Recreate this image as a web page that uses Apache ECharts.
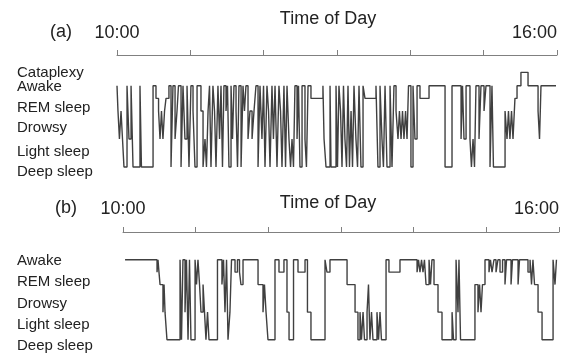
<!DOCTYPE html>
<html>
<head>
<meta charset="utf-8">
<script src="https://cdn.jsdelivr.net/npm/echarts@6/dist/echarts.min.js"></script>
<style>
  html, body { margin: 0; padding: 0; background: #fff; }
  #chart { width: 566px; height: 356px; }
</style>
</head>
<body>
<div id="chart"></div>
<script>
// Stage names shown on the left of each hypnogram, top to bottom
const stageNamesA = ['Cataplexy', 'Awake', 'REM sleep', 'Drowsy', 'Light sleep', 'Deep sleep'];
const stageNamesB = ['Awake', 'REM sleep', 'Drowsy', 'Light sleep', 'Deep sleep'];
// Level at which each stage name is printed
const labelLevelsA = [3.38, 2.85, 2.10, 1.39, 0.53, -0.18];
const labelLevelsB = [2.86, 2.10, 1.30, 0.54, -0.22];
// Plotted level of each stage code (S deep, L light, D drowsy, R REM, W awake, C cataplexy)
const stageLevel = { S: 0, L: 1, D: 2, R: 2.45, W: 2.9, C: 3.38 };
// Time axis: minutes after 10:00, labelled at both ends
const timeLabels = { 0: '10:00', 360: '16:00' };

// Hypnogram (a): [minutes after 10:00, stage entered]
const hypnogramA = [
  [0,'W'],[0.8,'D'],[2.0,'L'],[3.3,'D'],[4.5,'L'],[5.7,'S'],[8.2,'W'],[9.8,'L'],[11.5,'W'],[13.1,'S'],
  [18.8,'W'],[20.0,'S'],[29.5,'W'],[31.9,'R'],[34.0,'D'],[35.2,'L'],[36.4,'D'],[37.6,'L'],[38.9,'D'],[40.1,'R'],
  [42.5,'W'],[44.2,'S'],[45.8,'W'],[47.5,'L'],[49.1,'D'],[50.3,'W'],[52.4,'S'],[54.0,'W'],[55.6,'L'],[57.3,'W'],
  [58.9,'S'],[60.5,'W'],[62.2,'D'],[63.8,'S'],[65.5,'W'],[68.7,'D'],[70.4,'S'],[72.0,'L'],[73.2,'S'],[74.5,'D'],
  [75.7,'W'],[76.9,'S'],[78.5,'W'],[79.8,'D'],[81.0,'S'],[82.6,'W'],[83.9,'L'],[85.1,'W'],[86.3,'S'],[87.5,'W'],
  [89.2,'D'],[90.4,'W'],[91.6,'S'],[93.3,'W'],[94.5,'L'],[95.7,'W'],[97.4,'D'],[98.6,'S'],[99.8,'W'],[101.5,'S'],
  [103.1,'W'],[104.3,'D'],[105.5,'W'],[107.2,'L'],[108.8,'D'],[110.5,'L'],[112.1,'D'],[113.7,'W'],[115.4,'S'],[117.0,'W'],
  [118.6,'L'],[119.9,'W'],[121.1,'S'],[122.7,'W'],[124.0,'D'],[125.2,'S'],[126.8,'W'],[128.0,'L'],[129.3,'W'],[130.9,'S'],
  [132.5,'W'],[133.8,'D'],[135.0,'S'],[136.6,'W'],[137.9,'S'],[139.1,'W'],[140.7,'L'],[142.0,'S'],[143.2,'L'],[144.4,'S'],
  [145.6,'W'],[147.3,'L'],[148.5,'W'],[149.7,'S'],[151.4,'W'],[153.8,'L'],[155.0,'S'],[156.3,'W'],[158.7,'R'],[168.5,'W'],
  [169.4,'L'],[171.0,'S'],[174.3,'W'],[175.1,'S'],[179.2,'W'],[180.4,'S'],[181.6,'W'],[182.9,'D'],[184.1,'S'],[185.3,'W'],
  [186.5,'L'],[187.8,'S'],[189.0,'W'],[190.2,'S'],[191.5,'D'],[192.7,'S'],[193.9,'W'],[195.5,'L'],[196.8,'S'],[198.0,'W'],
  [199.6,'S'],[201.3,'W'],[202.9,'R'],[211.9,'W'],[213.5,'S'],[215.2,'W'],[216.8,'L'],[218.0,'S'],[219.3,'W'],[220.9,'S'],
  [223.4,'W'],[225.0,'S'],[226.6,'W'],[228.3,'D'],[229.9,'L'],[231.1,'D'],[232.4,'L'],[233.6,'D'],[234.8,'L'],[236.1,'D'],
  [237.3,'L'],[238.5,'W'],[240.5,'S'],[242.2,'W'],[243.8,'L'],[245.5,'W'],[247.9,'R'],[255.3,'W'],[268.4,'S'],[274.1,'W'],
  [281.5,'L'],[282.7,'W'],[283.9,'L'],[285.6,'W'],[288.8,'L'],[290.0,'S'],[291.3,'L'],[292.5,'S'],[293.7,'W'],[296.2,'L'],
  [297.8,'W'],[300.3,'D'],[301.9,'W'],[305.2,'S'],[306.8,'W'],[308.0,'S'],[317.5,'D'],[319.1,'L'],[320.3,'D'],[321.5,'L'],
  [322.8,'D'],[324.0,'L'],[325.6,'R'],[327.3,'W'],[330.5,'C'],[336.3,'W'],[344.5,'D'],[345.7,'L'],[346.9,'W'],[359.2,'W']
];

// Hypnogram (b): [minutes after 10:00, stage entered]
const hypnogramB = [
  [1.7,'W'],[28.1,'R'],[28.9,'W'],[29.7,'R'],[30.6,'D'],[33.0,'L'],[33.9,'D'],[34.7,'L'],[36.3,'S'],[47.1,'W'],
  [48.3,'S'],[49.5,'W'],[51.2,'L'],[52.4,'W'],[53.7,'S'],[54.9,'W'],[56.1,'S'],[59.5,'W'],[60.7,'D'],[61.9,'W'],
  [63.2,'D'],[64.4,'L'],[66.1,'D'],[67.3,'L'],[68.5,'S'],[69.8,'L'],[71.0,'S'],[78.0,'W'],[81.7,'D'],[83.0,'W'],
  [84.2,'L'],[85.5,'W'],[86.7,'S'],[88.3,'L'],[89.6,'W'],[92.5,'R'],[94.5,'W'],[96.2,'R'],[97.4,'D'],[99.1,'W'],
  [111.5,'D'],[115.6,'L'],[116.8,'D'],[118.1,'L'],[119.7,'S'],[125.5,'W'],[128.8,'R'],[132.9,'W'],[135.4,'L'],[137.1,'S'],
  [140.8,'W'],[144.5,'R'],[150.3,'W'],[152.3,'L'],[155.2,'S'],[166.8,'W'],[168.4,'R'],[170.9,'W'],[185.0,'D'],[191.6,'L'],
  [194.0,'S'],[195.7,'L'],[196.9,'S'],[198.2,'L'],[199.4,'S'],[201.5,'L'],[202.7,'D'],[203.9,'S'],[205.2,'L'],[206.4,'S'],
  [209.7,'L'],[211.0,'S'],[212.2,'L'],[213.4,'S'],[217.2,'W'],[219.6,'R'],[228.7,'W'],[242.8,'R'],[244.0,'W'],[245.2,'R'],
  [246.5,'W'],[247.7,'R'],[248.9,'W'],[250.2,'D'],[252.7,'W'],[253.9,'D'],[255.1,'W'],[256.8,'D'],[260.1,'L'],[263.4,'S'],
  [271.7,'L'],[272.9,'S'],[275.0,'W'],[276.6,'L'],[277.4,'W'],[278.7,'S'],[290.6,'D'],[293.1,'L'],[294.4,'D'],[295.6,'L'],
  [296.8,'D'],[298.9,'W'],[302.2,'R'],[303.4,'W'],[304.7,'R'],[306.3,'W'],[308.0,'R'],[309.6,'W'],[311.3,'R'],[313.4,'W'],
  [315.4,'D'],[316.7,'W'],[320.4,'D'],[321.6,'W'],[326.2,'D'],[327.4,'W'],[334.4,'R'],[336.1,'W'],[337.3,'D'],[338.5,'W'],
  [339.8,'D'],[342.7,'L'],[346.0,'S'],[355.1,'W'],[356.7,'D'],[357.9,'W'],[358.4,'W']
];

const FONT = "'Liberation Sans', Arial, Helvetica, sans-serif";
const TEXT = '#222';
const AXIS = '#808080';
const TRACE = '#404040';

function timeAxis(gridIndex, offset, nameGap, namePadRight, labelMargin) {
  return {
    type: 'value', gridIndex: gridIndex, position: 'top', offset: offset,
    min: 0, max: 360, interval: 60,
    name: 'Time of Day', nameLocation: 'middle', nameGap: nameGap, nameMoveOverlap: false,
    nameTextStyle: { fontSize: 18, color: TEXT, fontFamily: FONT, padding: [0, namePadRight, 0, 0] },
    axisLine: { onZero: false, lineStyle: { color: AXIS, width: 1 } },
    axisTick: { length: 5, lineStyle: { color: AXIS, width: 1 } },
    splitLine: { show: false },
    axisLabel: {
      fontSize: 18, color: TEXT, fontFamily: FONT, margin: labelMargin,
      showMinLabel: true, showMaxLabel: true, alignMaxLabel: 'right',
      formatter: function (v) { return timeLabels[v] || ''; }
    }
  };
}

function stageAxis(gridIndex, min, max, levels, names, margin) {
  return {
    type: 'value', gridIndex: gridIndex, min: min, max: max,
    axisLine: { show: false, onZero: false }, axisTick: { show: false }, splitLine: { show: false },
    axisLabel: {
      customValues: levels, align: 'left', margin: margin,
      fontSize: 15, color: TEXT, fontFamily: FONT,
      formatter: function (v) {
        const i = levels.findIndex(function (l) { return Math.abs(l - v) < 1e-6; });
        return i >= 0 ? names[i] : '';
      }
    }
  };
}

function stepSeries(records, index) {
  return {
    type: 'line', xAxisIndex: index, yAxisIndex: index, step: 'end',
    showSymbol: false, animation: false,
    lineStyle: { color: TRACE, width: 1.4 },
    data: records.map(function (r) { return [r[0], stageLevel[r[1]]]; })
  };
}

const chart = echarts.init(document.getElementById('chart'), null, { renderer: 'canvas' });
chart.setOption({
  animation: false,
  backgroundColor: '#fff',
  textStyle: { fontFamily: FONT },
  title: [
    { text: '(a)', left: 50, top: 23, padding: 0, textStyle: { fontSize: 18, fontWeight: 'normal', color: TEXT, fontFamily: FONT } },
    { text: '(b)', left: 55, top: 199, padding: 0, textStyle: { fontSize: 18, fontWeight: 'normal', color: TEXT, fontFamily: FONT } }
  ],
  grid: [
    { left: 117, right: 9, top: 69, height: 105 },
    { left: 123, right: 7, top: 257, height: 91 }
  ],
  xAxis: [
    timeAxis(0, 14, 27, 18, 13),
    timeAxis(1, 25, 20, 26, 14)
  ],
  yAxis: [
    stageAxis(0, -0.25, 3.5, labelLevelsA, stageNamesA, 100),
    stageAxis(1, -0.3, 3.0, labelLevelsB, stageNamesB, 106)
  ],
  series: [
    stepSeries(hypnogramA, 0),
    stepSeries(hypnogramB, 1)
  ]
});
</script>
</body>
</html>
